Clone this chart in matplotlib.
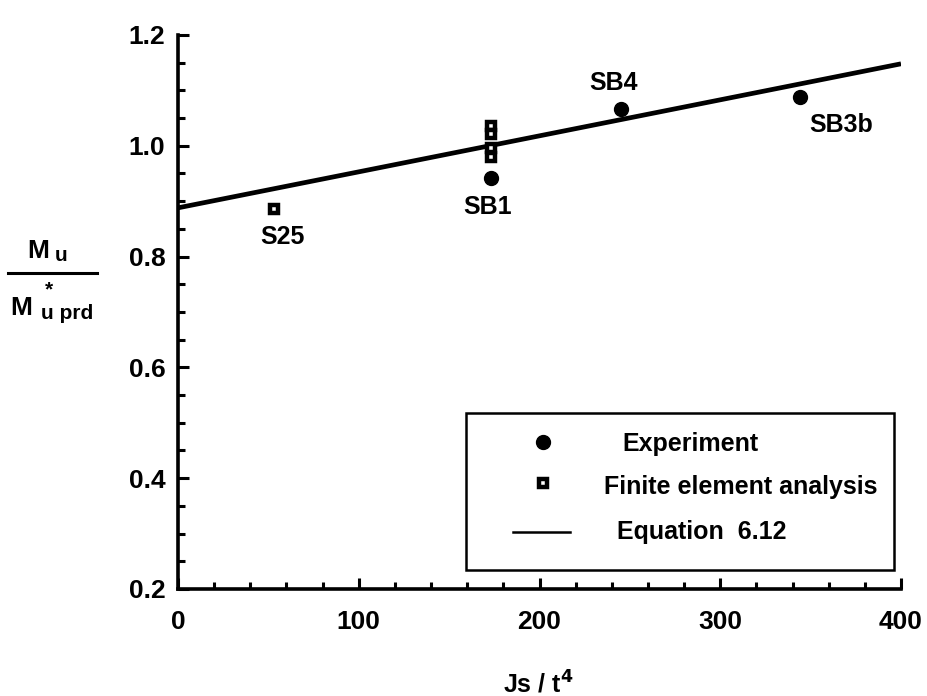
import matplotlib
matplotlib.use("Agg")
import matplotlib.pyplot as plt
from matplotlib.ticker import MultipleLocator, FormatStrFormatter
from matplotlib.lines import Line2D
from matplotlib.patches import Rectangle

plt.rcParams['font.family'] = ['Liberation Sans', 'DejaVu Sans']
plt.rcParams['font.weight'] = 'bold'

# Experimental results
exp_x = [173, 245, 344]
exp_y = [0.942, 1.066, 1.088]
exp_labels = ["SB1", "SB4", "SB3b"]

# Finite element results
fea_x = [53, 173, 173, 173, 173]
fea_y = [0.886, 1.036, 1.022, 0.996, 0.980]
fea_labels = ["S25", None, None, None, None]

# Equation 6.12
eq_x = [0, 400]
eq_y = [0.888, 1.148]

x_ticks = [0, 100, 200, 300, 400]
y_ticks = [0.2, 0.4, 0.6, 0.8, 1.0, 1.2]

W, H = 927, 696
fig = plt.figure(figsize=(W / 100, H / 100), dpi=100)
ax = fig.add_axes([178 / W, 1 - 589 / H, (901 - 178) / W, (589 - 35) / H])

ax.plot(eq_x, eq_y, color='black', lw=3.4, solid_capstyle='butt', zorder=2)
ax.plot(fea_x, fea_y, ls='none', marker='s', ms=6, mew=3.2,
        mfc='white', mec='black', zorder=3)
ax.plot(exp_x, exp_y, ls='none', marker='o', ms=10, mfc='black',
        mec='black', zorder=3)

label_offsets = {"SB1": (-2, -21), "SB4": (-5, 19), "SB3b": (30, -20),
                 "S25": (6, -20)}
for xs, ys, names in ((exp_x, exp_y, exp_labels), (fea_x, fea_y, fea_labels)):
    for x, y, name in zip(xs, ys, names):
        if name:
            ax.annotate(name, (x, y), xytext=label_offsets[name],
                        textcoords='offset points', ha='center', va='center',
                        fontsize=18, fontweight='bold')

ax.set_xlim(0, 400)
ax.set_ylim(0.2, 1.2)
ax.set_xticks(x_ticks)
ax.set_yticks(y_ticks)
ax.xaxis.set_minor_locator(MultipleLocator(20))
ax.yaxis.set_minor_locator(MultipleLocator(0.05))
ax.yaxis.set_major_formatter(FormatStrFormatter('%.1f'))
for s in ('top', 'right'):
    ax.spines[s].set_visible(False)
for s in ('left', 'bottom'):
    ax.spines[s].set_linewidth(2.6)
ax.tick_params(which='major', direction='in', length=8, width=2.2,
               labelsize=19)
ax.tick_params(which='minor', direction='in', length=5, width=2.2)
ax.tick_params(axis='x', which='major', pad=15)
ax.tick_params(axis='y', which='major', pad=9)
for lab in ax.get_xticklabels() + ax.get_yticklabels():
    lab.set_fontweight('bold')

# Legend box drawn in axes coordinates
ax.add_patch(Rectangle((0.398, 0.034), 0.592, 0.284, transform=ax.transAxes,
                       fill=False, lw=1.8, ec='black', zorder=4))
ax.plot([0.505], [0.265], transform=ax.transAxes, marker='o', ms=10,
        color='black', zorder=5)
ax.text(0.615, 0.262, "Experiment", transform=ax.transAxes, va='center',
        ha='left', fontsize=18, fontweight='bold')
ax.plot([0.505], [0.191], transform=ax.transAxes, marker='s', ms=6,
        mew=3.2, mfc='white', mec='black', zorder=5)
ax.text(0.589, 0.184, "Finite element analysis", transform=ax.transAxes,
        va='center', ha='left', fontsize=18, fontweight='bold')
ax.plot([0.463, 0.542], [0.103, 0.103], transform=ax.transAxes,
        color='black', lw=1.8)
ax.text(0.607, 0.103, "Equation  6.12", transform=ax.transAxes,
        va='center', ha='left', fontsize=18, fontweight='bold')

# x-axis title
fig.text(538 / W, 1 - 684 / H, r"Js / t$^{\mathbf{4}}$", ha='center',
         va='center', fontsize=18, fontweight='bold')

# y-axis title as a stacked ratio
fig.text(27 / W, 1 - 258 / H, "M", fontsize=19, fontweight='bold',
         va='baseline', ha='left')
fig.text(55 / W, 1 - 261 / H, "u", fontsize=15, fontweight='bold',
         va='baseline', ha='left')
fig.add_artist(Line2D([8 / W, 97 / W], [1 - 273 / H, 1 - 273 / H],
                      color='black', lw=2.2))
fig.text(10 / W, 1 - 315 / H, "M", fontsize=19, fontweight='bold',
         va='baseline', ha='left')
fig.text(45 / W, 1 - 290 / H, "*", fontsize=15, fontweight='bold',
         va='center', ha='left')
fig.text(41 / W, 1 - 319 / H, "u prd", fontsize=15, fontweight='bold',
         va='baseline', ha='left')

fig.savefig("out.png", dpi=100)
